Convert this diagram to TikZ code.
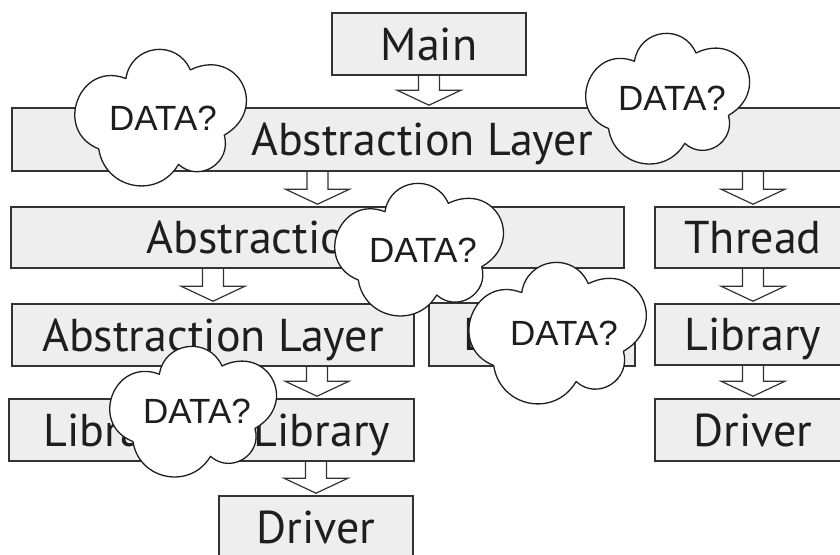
\documentclass[tikz,border=0pt]{standalone}
\usepackage{fontspec}
\setmainfont{PT Sans}
\newfontfamily\cloudfont{Liberation Sans}
\usetikzlibrary{calc,backgrounds}

\definecolor{boxfill}{HTML}{EEEEEE}
\definecolor{edge}{HTML}{333333}
\definecolor{ink}{HTML}{1E1E1E}

% closed five-puff cloud outline in a 175 x 134 frame, y pointing down
\newcommand\cloudoutline{(53,28.7)
  .. controls (57.9,-4.3) and (102.9,-10.3) .. (116.3,20.3)
  .. controls (163.1,-2.3) and (194.8,57.9) .. (149.7,83.7)
  .. controls (157.4,110.4) and (125.4,130.5) .. (104.7,112)
  .. controls (84.5,146.4) and (32.3,136.4) .. (26.3,97)
  .. controls (-19.2,79.2) and (7.5,10.9) .. (53,28.7) -- cycle}
% \datacloud{name}{left}{top}{x scale}{y scale}{text x}{text baseline}
\newcommand\datacloud[7]{%
  \begin{scope}[shift={(#2,#3)}, x=#4pt, y=-#5pt]
    \draw[cloudline] \cloudoutline;
  \end{scope}
  \node[cloudtext, anchor=base] (#1) at (#6,#7) {DATA?};}

\begin{document}
\begin{tikzpicture}[x=1pt,y=-1pt,
  boxtext/.style={text=ink, font=\fontsize{46}{46}\selectfont},
  box/.style={boxtext, draw=edge, line width=1.6pt, fill=boxfill, inner sep=0pt,
    minimum height=62pt, text height=32pt, text depth=0pt},
  cloudline/.style={draw=ink, line width=1.3pt, fill=white, line join=round},
  cloudtext/.style={text=ink, inner sep=0pt, font=\cloudfont\fontsize{35}{35}\selectfont},
  blockarrow/.style={draw=edge, line width=1.2pt, fill=white,
    to path={($(\tikztostart)+(-10.5pt,0)$)
      -- ($(\tikztotarget)+(-10.5pt,17pt)$) -- ($(\tikztotarget)+(-32pt,17pt)$)
      -- ($(\tikztotarget)+(0pt,2pt)$)
      -- ($(\tikztotarget)+(32pt,17pt)$) -- ($(\tikztotarget)+(10.5pt,17pt)$)
      -- ($(\tikztostart)+(10.5pt,0)$)}}
]
\useasboundingbox (0,0) rectangle (840,554);

% layer boxes
\node[box, minimum width=194pt] (main) at (429,44) {Main};
\node[box, minimum width=870pt, minimum height=63pt] (top) at (447,139.5) {};
\node[boxtext, anchor=base] (topText) at (422,155) {Abstraction Layer};
\node[box, minimum width=613pt, minimum height=61pt] (abs2) at (317.5,237.5) {Abstraction Layer};
\node[box, minimum width=196pt, minimum height=61pt] (thread) at (753,237.5) {Thread};
\node[box, minimum width=402pt] (abs3) at (213,335) {Abstraction Layer};
\node[box, minimum width=206pt, minimum height=63pt] (libM) at (532,334.5) {Library};
\node[box, minimum width=196pt, minimum height=61pt] (libR) at (753,334.5) {Library};
\node[box, minimum width=196pt] (libA) at (107,430) {\hspace*{10pt}Library};
\node[box, minimum width=194pt] (libB) at (317,430) {\hspace*{10pt}Library};
\node[box, minimum width=196pt] (drvR) at (753,430) {Driver};
\node[box, minimum width=194pt] (drvB) at (316,527) {Driver};

% hollow arrows between layers
\begin{scope}[on background layer]
  \draw[blockarrow] (main.south) to (main.south |- top.north);
  \draw[blockarrow] (top.south -| abs2.north) to (abs2.north);
  \draw[blockarrow] (top.south -| thread.north) to (thread.north);
  \draw[blockarrow] (abs2.south -| abs3.north) to (abs3.north);
  \draw[blockarrow] (thread.south) to (libR.north);
  \draw[blockarrow] (libR.south) to (drvR.north);
  \draw[blockarrow] (abs3.south -| libB.north) to (libB.north);
  \draw[blockarrow] (libB.south -| drvB.north) to (drvB.north);
\end{scope}

% clouds
\datacloud{c1}{72}{49}{1.01714}{1.02985}{163}{130}
\datacloud{c2}{583}{33}{0.97143}{0.98507}{672}{110}
\datacloud{c3}{332}{183}{1}{1}{423}{262}
\datacloud{c4}{466}{262}{1.05143}{1.06716}{564}{345}
\datacloud{c5}{107}{346}{0.98857}{0.98507}{197}{423}
\end{tikzpicture}
\end{document}
